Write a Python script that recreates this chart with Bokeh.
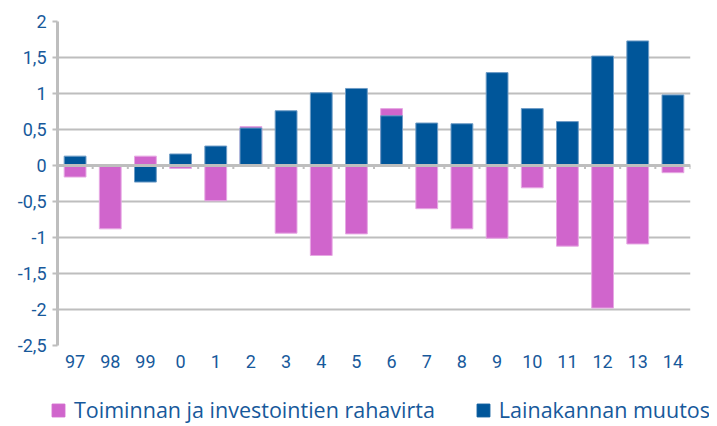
from bokeh.plotting import figure
from bokeh.models import Range1d, FactorRange, ColumnDataSource, Legend, LegendItem, FixedTicker, Span
from bokeh.transform import dodge
from bokeh.embed import file_html
from bokeh.resources import INLINE

categories = ["97", "98", "99", "0", "1", "2", "3", "4", "5", "6", "7", "8", "9", "10", "11", "12", "13", "14"]
rahavirta = [-0.16, -0.88, 0.13, -0.04, -0.49, 0.54, -0.94, -1.25, -0.95, 0.79, -0.60, -0.88, -1.01, -0.31, -1.12, -1.98, -1.09, -0.10]
lainakanta = [0.13, 0.0, -0.23, 0.16, 0.27, 0.52, 0.76, 1.01, 1.07, 0.69, 0.59, 0.58, 1.29, 0.79, 0.61, 1.52, 1.73, 0.98]
y_ticks = [-2.5, -2, -1.5, -1, -0.5, 0, 0.5, 1, 1.5, 2]
y_tick_labels = ["-2,5", "-2", "-1,5", "-1", "-0,5", "0", "0,5", "1", "1,5", "2"]
series_names = ["Toiminnan ja investointien rahavirta", "Lainakannan muutos"]

PINK = "#D065CC"
BLUE = "#00569A"
TEXT = "#17599B"
GRID = "#BEBEBE"
FONT = "Roboto"

src = ColumnDataSource(dict(x=categories, pink=rahavirta, blue=lainakanta))

p = figure(width=709, height=392, x_range=FactorRange(*categories, range_padding=0),
           y_range=Range1d(-2.5, 2), output_backend="svg", toolbar_location=None,
           min_border_left=57, min_border_top=21, min_border_right=19, min_border_bottom=47)
p.x_range.factor_padding = 0
p.outline_line_color = None
p.background_fill_color = "white"

p.xgrid.grid_line_color = None
p.ygrid.grid_line_color = GRID
p.ygrid.grid_line_width = 2
p.yaxis.ticker = FixedTicker(ticks=y_ticks)
p.yaxis.major_label_overrides = {t: l for t, l in zip(y_ticks, y_tick_labels)}
p.yaxis.axis_line_color = GRID
p.yaxis.axis_line_width = 3
p.yaxis.major_tick_line_color = GRID
p.yaxis.major_tick_line_width = 2
p.yaxis.major_tick_out = 5
p.yaxis.major_tick_in = 0
p.yaxis.minor_tick_line_color = None
p.yaxis.major_label_standoff = 6
p.yaxis.major_label_text_font = FONT
p.yaxis.major_label_text_font_size = "18px"
p.yaxis.major_label_text_color = TEXT

p.xaxis.axis_line_color = None
p.xaxis.major_tick_line_color = None
p.xaxis.minor_tick_line_color = None
p.xaxis.major_label_standoff = 3
p.xaxis.major_label_text_font = FONT
p.xaxis.major_label_text_font_size = "18px"
p.xaxis.major_label_text_color = TEXT

p.vbar(x="x", top="pink", bottom=0, width=0.62, source=src, fill_color=PINK,
       line_color="#E6A8E3", line_width=1)
p.vbar(x="x", top="blue", bottom=0, width=0.62, source=src, fill_color=BLUE,
       line_color="#6E9CC6", line_width=1)

# zero line and its tick marks between categories
p.add_layout(Span(location=0, dimension="width", line_color=GRID, line_width=3))
p.segment(x0=dodge("x", 0.5, range=p.x_range), x1=dodge("x", 0.5, range=p.x_range),
          y0=0, y1=-0.05, source=src, line_color=GRID, line_width=2)

# legend strip (its own root, so its frame is the whole strip)
lg = figure(width=709, height=32, output_backend="svg", toolbar_location=None,
            x_range=FactorRange(*categories), y_range=Range1d(50, 51),
            x_axis_location=None, y_axis_location=None,
            min_border=0, min_border_left=0, min_border_right=0, min_border_top=0, min_border_bottom=0)
lg.grid.visible = False
lg.outline_line_color = None
g1 = lg.vbar(x="x", top="pink", bottom=0, width=0.62, source=src, fill_color=PINK, line_color=PINK)
g2 = lg.vbar(x="x", top="blue", bottom=0, width=0.62, source=src, fill_color=BLUE, line_color=BLUE)
legend = Legend(items=[LegendItem(label=series_names[0], renderers=[g1]),
                       LegendItem(label=series_names[1], renderers=[g2])],
                orientation="horizontal", location=(50, 0),
                label_text_font="Open Sans", label_text_font_size="21.5px", label_text_color=TEXT,
                glyph_width=16, glyph_height=16, label_standoff=8, spacing=40,
                padding=0, margin=0, border_line_color=None, background_fill_alpha=0,
                label_height=16)
lg.add_layout(legend)

open("out.html", "w").write(file_html([p, lg], INLINE))
